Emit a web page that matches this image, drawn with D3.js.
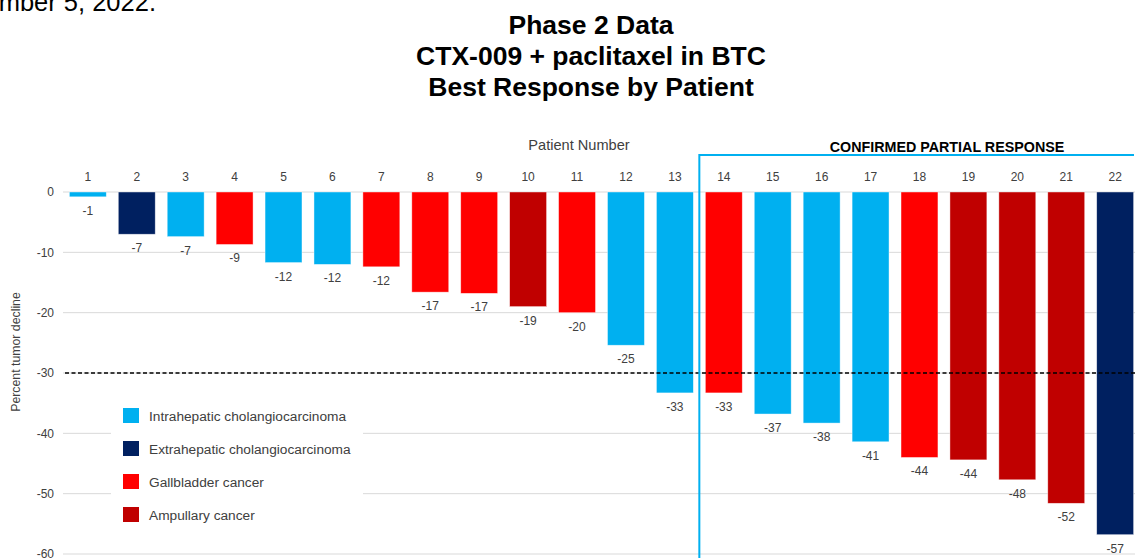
<!DOCTYPE html>
<html><head><meta charset="utf-8">
<script src="https://cdn.jsdelivr.net/npm/d3@7"></script>
<style>body{margin:0;background:#fff;}svg{display:block;font-family:"Liberation Sans",Arial,sans-serif;}</style>
</head><body>
<svg id="c" width="1135" height="558"></svg>
<script>
const patients = ["1","2","3","4","5","6","7","8","9","10","11","12","13","14","15","16","17","18","19","20","21","22"];
const values = [-0.8,-7.0,-7.4,-8.7,-11.7,-12.0,-12.4,-16.6,-16.8,-19.0,-20.0,-25.4,-33.3,-33.3,-36.8,-38.3,-41.4,-44.0,-44.4,-47.7,-51.6,-56.8];
const types = ["I","E","I","G","I","I","G","G","G","A","G","I","I","G","I","I","I","G","A","A","A","E"];
const legendKeys = ["I","E","G","A"];
const legendLabels = ["Intrahepatic cholangiocarcinoma","Extrahepatic cholangiocarcinoma","Gallbladder cancer","Ampullary cancer"];
const legendColors = ["#00B0F0","#002060","#FF0000","#C00000"];
const yTicks = [0,-10,-20,-30,-40,-50,-60];
const threshold = -30;
const titleLines = ["Phase 2 Data","CTX-009 + paclitaxel in BTC","Best Response by Patient"];

const fmt = v => String(Math.round(v)).replace("\u2212","-");
const svg = d3.select("#c");
const color = d3.scaleOrdinal().domain(legendKeys).range(legendColors);
const x = d3.scaleBand().domain(patients).range([63.5, 1139.5]).paddingInner(0.245).paddingOuter(0.12);
const y = d3.scaleLinear().domain([0,-60]).range([192,554]);

// cropped header text
svg.append("text").attr("x",156).attr("y",11).attr("text-anchor","end")
  .attr("font-size",25.5).attr("fill","#000").text("December 5, 2022.");

// title
svg.append("g").selectAll("text").data(titleLines).join("text")
  .attr("x",591).attr("y",(d,i)=>34+i*31).attr("text-anchor","middle")
  .attr("font-size",26.5).attr("font-weight","bold").attr("fill","#000").text(d=>d);

// gridlines
svg.append("g").selectAll("line").data(yTicks).join("line")
  .attr("x1",63).attr("x2",1135).attr("y1",d=>y(d)).attr("y2",d=>y(d))
  .attr("stroke","#d9d9d9").attr("stroke-width",1);

// y axis
const yAxis = svg.append("g").attr("transform","translate(54,0)")
  .call(d3.axisLeft(y).tickValues(yTicks).tickSize(0).tickPadding(0).tickFormat(fmt));
yAxis.select(".domain").remove();
yAxis.selectAll("text").attr("font-size",12).attr("fill","#404040").attr("font-family","Liberation Sans, Arial, sans-serif");

svg.append("text").attr("transform","translate(20,352) rotate(-90)").attr("text-anchor","middle")
  .attr("font-size",12.3).attr("fill","#404040").text("Percent tumor decline");

// x axis (top)
const xAxis = svg.append("g").attr("transform","translate(0,181)")
  .call(d3.axisTop(x).tickSize(0).tickPadding(0));
xAxis.select(".domain").remove();
xAxis.selectAll("text").attr("font-size",12).attr("fill","#404040").attr("font-family","Liberation Sans, Arial, sans-serif");

svg.append("text").attr("x",579).attr("y",150).attr("text-anchor","middle")
  .attr("font-size",14.6).attr("fill","#404040").text("Patient Number");

// bars
const data = patients.map((p,i)=>({p, v:values[i], t:types[i]}));
svg.append("g").selectAll("rect").data(data).join("rect")
  .attr("x",d=>x(d.p)).attr("width",x.bandwidth())
  .attr("y",y(0)).attr("height",d=>y(d.v)-y(0))
  .attr("fill",d=>color(d.t)).attr("stroke","#ffffff").attr("stroke-opacity",0.6).attr("stroke-width",0.7);

svg.append("g").selectAll("text").data(data).join("text")
  .attr("x",d=>x(d.p)+x.bandwidth()/2).attr("y",d=>y(d.v)+18)
  .attr("text-anchor","middle").attr("font-size",12).attr("fill","#404040")
  .text(d=>fmt(d.v));

// threshold line
svg.append("line").attr("x1",65).attr("x2",1135).attr("y1",y(threshold)).attr("y2",y(threshold))
  .attr("stroke","#000").attr("stroke-width",1.3).attr("stroke-dasharray","4,2.5");

// confirmed partial response box
const bx = x("14") - (x.step()-x.bandwidth())/2;
svg.append("path").attr("d",`M${bx},${y(-60)+6}V155H1134`)
  .attr("fill","none").attr("stroke","#00B0F0").attr("stroke-width",2);
svg.append("text").attr("x",947).attr("y",152).attr("text-anchor","middle")
  .attr("font-size",14.3).attr("font-weight","bold").attr("fill","#000").text("CONFIRMED PARTIAL RESPONSE");

// legend
const lg = svg.append("g");
lg.append("rect").attr("x",111).attr("y",400).attr("width",252).attr("height",130).attr("fill","#fff");
const li = lg.selectAll("g").data(legendKeys).join("g")
  .attr("transform",(d,i)=>`translate(123,${408+i*33})`);
li.append("rect").attr("width",16).attr("height",15).attr("fill",d=>color(d));
li.append("text").attr("x",26).attr("y",12.5).attr("font-size",13.7).attr("fill","#404040")
  .text((d,i)=>legendLabels[i]);
</script>
</body></html>
